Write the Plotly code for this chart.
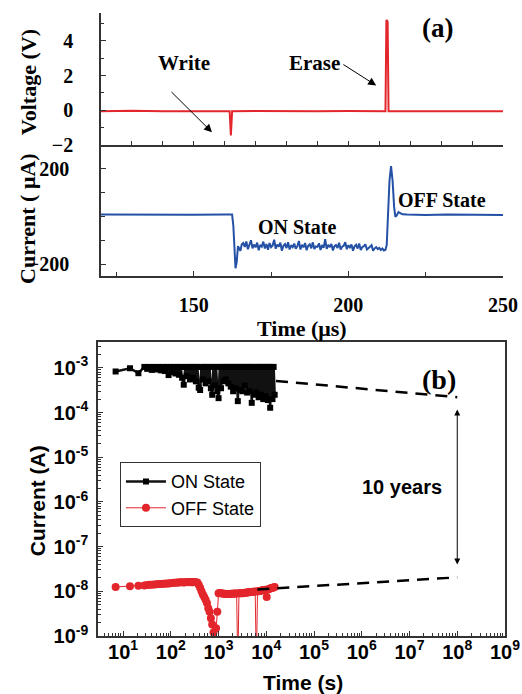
import plotly.graph_objects as go

# ---------------- panel (a) data ----------------
volt_t = [120, 130, 140, 150, 158, 161.6, 162.0, 162.4, 170, 180, 190, 200, 208,
          212.0, 212.3, 212.7, 213.0, 220, 230, 240, 250]
volt_v = [-0.05, -0.03, -0.06, -0.04, -0.05, -0.05, -1.45, -0.05, -0.04, -0.06, -0.05,
          -0.04, -0.05, -0.05, 5.2, 5.1, -0.05, -0.05, -0.04, -0.06, -0.05]

cur_t = [120, 130, 140, 150, 160, 162.4, 162.8, 163.1, 163.5, 163.9, 164.3, 164.7, 165.1, 165.5,
         166.0, 166.5, 167.0, 167.5, 168.0, 168.5, 169.0, 169.5, 170.0, 170.5,
         171.0, 171.5, 172.0, 172.5, 173.0, 173.5, 174.0, 174.5, 175.0, 175.5,
         176.0, 176.5, 177.0, 177.5, 178.0, 178.5, 179.0, 179.5, 180.0, 180.5,
         181.0, 181.5, 182.0, 182.5, 183.0, 183.5, 184.0, 184.5, 185.0, 185.5,
         186.0, 186.5, 187.0, 187.5, 188.0, 188.5, 189.0, 189.5, 190.0, 190.5,
         191.0, 191.5, 192.0, 192.5, 193.0, 193.5, 194.0, 194.5, 195.0, 195.5,
         196.0, 196.5, 197.0, 197.5, 198.0, 198.5, 199.0, 199.5, 200.0, 200.5,
         201.0, 201.5, 202.0, 202.5, 203.0, 203.5, 204.0, 204.5, 205.0, 205.5,
         206.0, 206.5, 207.0, 207.5, 208.0, 208.5, 209.0, 209.5, 210.0, 210.5,
         211.0, 211.5,
         212.0, 212.4, 212.8, 213.3, 213.8, 214.3, 214.8, 215.2, 215.7, 216.2, 216.8, 217.5,
         219, 225, 232, 240, 250]
cur_i = [8, 7, 9, 7, 8, 8, -40, -150, -218, -190, -125, -135, -145, -118,
         -112, -128, -105, -138, -120, -100, -134, -118, -130, -110,
         -142, -120, -127, -106, -135, -116, -140, -112, -129, -122,
         -98, -136, -118, -127, -110, -144, -123, -116, -133, -108,
         -139, -121, -129, -114, -136, -125, -103, -139, -119, -130,
         -112, -142, -123, -117, -134, -109, -137, -126, -128, -113,
         -141, -120, -132, -96, -136, -119, -129, -116, -143, -125,
         -120, -133, -111, -139, -127, -123, -108, -138, -121, -130,
         -118, -144, -126, -119, -135, -114, -141, -129, -125, -117,
         -139, -131, -127, -121, -144, -134, -129, -137, -132, -141,
         -135, -143,
         -140, -120, 0, 150, 212, 150, 40, -2, 5, 18, 14, 9,
         8, 6, 8, 7, 6]

# ---------------- panel (b) data ----------------
ret_t = [7, 14, 21, 28, 32, 36, 40, 45, 50, 56, 62, 68, 75, 82, 90, 98, 107, 116, 126, 137,
         148, 160, 173, 187, 202, 218, 235, 253, 272, 292, 313, 336, 360, 385, 412, 440, 470,
         502, 536, 572, 610, 650, 692, 737, 785, 835, 888, 944, 1003, 1065, 1130, 1200, 1273,
         1350, 1431, 1517, 1607, 1703, 1804, 1910, 2022, 2140, 2265, 2397, 2536, 2683, 2838,
         3002, 3175, 3358, 3551, 3755, 3971, 4199, 4440, 4695, 4964, 5248, 5548, 5866, 6201,
         6556, 6931, 7327, 7746, 8188, 8656, 9150, 9672, 10224, 10807, 11423, 12074, 12762,
         13489, 14257, 15000]
on_i = [8.3e-4, 9.8e-4, 7.6e-4, 1.05e-3, 9.5e-4, 1.05e-3, 9.0e-4, 1.05e-3, 9.2e-4, 1.05e-3,
        8.8e-4, 1.05e-3, 8.5e-4, 1.05e-3, 6.9e-4, 1.05e-3, 8.0e-4, 1.05e-3, 7.5e-4, 1.05e-3,
        7.0e-4, 1.05e-3, 6.0e-4, 4.2e-4, 1.05e-3, 6.5e-4, 1.05e-3, 5.5e-4, 1.05e-3, 6.0e-4,
        1.05e-3, 5.0e-4, 1.05e-3, 3.6e-4, 3.2e-4, 1.05e-3, 5.5e-4, 1.05e-3, 4.5e-4, 1.05e-3,
        5.0e-4, 1.05e-3, 3.5e-4, 2.5e-4, 1.05e-3, 4.0e-4, 1.05e-3, 3.0e-4, 2.1e-4, 1.05e-3,
        3.5e-4, 1.05e-3, 5.0e-4, 1.05e-3, 5.5e-4, 1.05e-3, 4.5e-4, 1.05e-3, 3.8e-4, 1.05e-3,
        3.0e-4, 1.05e-3, 3.5e-4, 1.05e-3, 1.8e-4, 1.05e-3, 3.2e-4, 1.05e-3, 3.0e-4, 1.05e-3,
        4.0e-4, 1.05e-3, 2.8e-4, 1.05e-3, 3.0e-4, 1.05e-3, 1.65e-4, 1.05e-3, 2.5e-4, 1.05e-3,
        2.8e-4, 1.05e-3, 2.2e-4, 1.05e-3, 2.5e-4, 1.05e-3, 2.0e-4, 1.05e-3, 2.3e-4, 1.05e-3,
        1.9e-4, 1.05e-3, 1.28e-4, 1.05e-3, 2.0e-4, 1.05e-3, 2.5e-4]
off_i = [1.25e-8, 1.3e-8, 1.33e-8, 1.35e-8, 1.38e-8, 1.4e-8, 1.4e-8, 1.42e-8, 1.43e-8, 1.45e-8,
         1.46e-8, 1.47e-8, 1.48e-8, 1.5e-8, 1.5e-8, 1.52e-8, 1.53e-8, 1.55e-8, 1.55e-8, 1.57e-8,
         1.58e-8, 1.6e-8, 1.6e-8, 1.58e-8, 1.6e-8, 1.62e-8, 1.6e-8, 1.62e-8, 1.6e-8, 1.6e-8,
         1.62e-8, 1.6e-8, 1.58e-8, 1.4e-8, 1.2e-8, 1.0e-8, 8.5e-9, 7.5e-9, 6.5e-9, 5.5e-9,
         4.2e-9, 3.5e-9, 2.5e-9, 1.8e-9, 1.2e-9, 5e-10, 1.5e-9, 3.5e-9, 9.0e-9, 9.2e-9,
         9.0e-9, 8.9e-9, 8.8e-9, 8.8e-9, 8.7e-9, 8.7e-9, 8.7e-9, 8.7e-9, 8.8e-9, 8.8e-9,
         8.8e-9, 8.9e-9, 8.9e-9, 8.9e-9, 2e-10, 9.0e-9, 9.0e-9, 9.1e-9, 9.1e-9, 9.2e-9,
         9.3e-9, 9.3e-9, 9.4e-9, 9.5e-9, 9.5e-9, 9.6e-9, 9.7e-9, 9.8e-9, 9.8e-9, 9.9e-9,
         2e-10, 1.0e-8, 1.0e-8, 1.02e-8, 1.03e-8, 1.05e-8, 1.06e-8, 1.07e-8, 1.08e-8, 7.5e-9,
         1.1e-8, 1.12e-8, 1.15e-8, 1.18e-8, 1.2e-8, 1.22e-8, 1.25e-8]

on_fit_t = [1.6e4, 1e8]
on_fit_i = [5.1e-4, 2.2e-4]
off_fit_t = [6.5e3, 1e8]
off_fit_i = [1.1e-8, 2.05e-8]

log_ticks = [1, 2, 3, 4, 5, 6, 7, 8, 9]
log_tick_text = ["10<sup>%d</sup>" % k for k in log_ticks]
ylog_ticks = [-9, -8, -7, -6, -5, -4, -3]
ylog_tick_text = ["10<sup>%d</sup>" % k for k in ylog_ticks]

RED = "#e3262c"
BLUE = "#2451a6"
SERIF = "Liberation Serif"
SANS = "Liberation Sans"

fig = go.Figure()
fig.add_trace(go.Scatter(x=volt_t, y=volt_v, mode="lines", line=dict(color=RED, width=2),
                         xaxis="x", yaxis="y", showlegend=False))
fig.add_trace(go.Scatter(x=cur_t, y=cur_i, mode="lines", line=dict(color=BLUE, width=2),
                         xaxis="x2", yaxis="y2", showlegend=False))
fig.add_trace(go.Scatter(x=ret_t, y=on_i, mode="lines+markers", name="ON State",
                         line=dict(color="#111", width=2.5),
                         marker=dict(symbol="square", size=6, color="black"),
                         xaxis="x3", yaxis="y3"))
fig.add_trace(go.Scatter(x=ret_t, y=off_i, mode="lines+markers", name="OFF State",
                         line=dict(color=RED, width=1),
                         marker=dict(symbol="circle", size=8, color=RED),
                         xaxis="x3", yaxis="y3"))
for tt, ii in [(on_fit_t, on_fit_i), (off_fit_t, off_fit_i)]:
    fig.add_trace(go.Scatter(x=tt, y=ii, mode="lines", showlegend=False,
                             line=dict(color="black", width=2.5, dash="12px,8px"),
                             xaxis="x3", yaxis="y3"))

axcol = "#333"
tfont_serif = dict(family=SERIF, size=20, color="black", weight="bold")
tfont_sans = dict(family=SANS, size=20, color="black", weight="bold")
xdom_top = [0.0074, 0.995]
common = dict(showgrid=False, zeroline=False, automargin=False, showline=True,
              linecolor=axcol, linewidth=1.5, tickcolor=axcol, ticks="inside")

fig.update_layout(
    width=522, height=694,
    margin=dict(l=98, r=17, t=13, b=58),
    paper_bgcolor="white", plot_bgcolor="white",
    xaxis=dict(domain=xdom_top, anchor="y", range=[120, 250], ticklen=4, dtick=10, tick0=120,
               showticklabels=False, **common),
    yaxis=dict(domain=[0.788, 1], anchor="x", range=[-2, 5.6], ticklen=5, dtick=2, tick0=0,
               minor=dict(ticks="inside", ticklen=3, dtick=1, tickcolor=axcol),
               tickfont=tfont_serif, ticklabelstandoff=22, **common),
    xaxis2=dict(domain=xdom_top, anchor="y2", range=[120, 250], ticklen=5,
                tickvals=[150, 200, 250],
                minor=dict(ticks="inside", ticklen=4, tickvals=[125, 175, 225], tickcolor=axcol),
                tickfont=tfont_serif, ticklabelstandoff=10, **common),
    yaxis2=dict(domain=[0.578, 0.788], anchor="x2", range=[-250, 300], ticklen=5,
                tickvals=[-200, 200],
                minor=dict(ticks="inside", ticklen=4, tickvals=[-100, 0, 100], tickcolor=axcol),
                tickfont=tfont_serif, ticklabelstandoff=26, **common),
    xaxis3=dict(domain=[0, 1], anchor="y3", type="log", range=[0.476, 9.0], mirror=True,
                ticklen=5, tickvals=[10 ** k for k in log_ticks], ticktext=log_tick_text,
                minor=dict(ticks="inside", ticklen=3, dtick="D1", tickcolor=axcol),
                tickfont=tfont_sans, ticklabelstandoff=-3, **common),
    yaxis3=dict(domain=[0, 0.472], anchor="x3", type="log", range=[-9, -2.42], mirror=True,
                ticklen=5, tickvals=[10.0 ** k for k in ylog_ticks], ticktext=ylog_tick_text,
                minor=dict(ticks="inside", ticklen=3, dtick="D1", tickcolor=axcol),
                tickfont=tfont_sans, ticklabelstandoff=4, **common),
    legend=dict(x=0.054, y=0.279, xanchor="left", yanchor="top", bordercolor=axcol, borderwidth=1,
                bgcolor="white", font=dict(family=SANS, size=18, color="black"), tracegroupgap=0,
                itemwidth=40),
)

ann = []
def txt(text, x, y, xref, yref, size, family, angle=0):
    ann.append(dict(text=text, x=x, y=y, xref=xref, yref=yref, showarrow=False,
                    textangle=angle, font=dict(family=family, size=size, color="black", weight="bold"),
                    xanchor="center", yanchor="middle"))

txt("Voltage (V)", -0.172, 0.889, "paper", "paper", 22, SERIF, -90)
txt("Current ( μA)", -0.172, 0.671, "paper", "paper", 22, SERIF, -90)
txt("Time (μs)", 0.501, 0.493, "paper", "paper", 22, SERIF)
txt("Current (A)", -0.150, 0.218, "paper", "paper", 21, SANS, -90)
txt("Time (s)", 0.504, -0.075, "paper", "paper", 21, SANS)
txt("(a)", 228.7, 4.75, "x", "y", 27, SERIF)
txt("Write", 146.8, 2.7, "x", "y", 21, SERIF)
txt("Erase", 189.0, 2.7, "x", "y", 21, SERIF)
txt("ON State", 183.4, -46, "x2", "y2", 20, SERIF)
txt("OFF State", 230.4, 71, "x2", "y2", 20, SERIF)
txt("(b)", 0.838, 0.411, "paper", "paper", 28, SERIF)
txt("10 years", 0.747, 0.239, "paper", "paper", 20, SANS)

# arrows
ann.append(dict(x=155.9, y=-1.26, ax=142.3, ay=1.14, xref="x", yref="y", axref="x", ayref="y",
                showarrow=True, arrowhead=2, arrowsize=1.6, arrowwidth=1, arrowcolor="black", text=""))
ann.append(dict(x=209.0, y=1.43, ax=197.9, ay=2.69, xref="x", yref="y", axref="x", ayref="y",
                showarrow=True, arrowhead=2, arrowsize=1.6, arrowwidth=1, arrowcolor="black", text=""))
ann.append(dict(x=8, y=-7.4, ax=8, ay=-3.9, xref="x3", yref="y3", axref="x3", ayref="y3",
                showarrow=True, arrowhead=2, startarrowhead=2, arrowside="end+start",
                arrowsize=1.2, startarrowsize=1.2, arrowwidth=1, arrowcolor="black", text=""))
fig.update_layout(annotations=ann)

# remove the page's default 8px body margin so the figure fills the window exactly
fig.write_html("out.html", config={"displayModeBar": False},
               post_script="document.body.style.margin='0';document.body.style.overflow='hidden';")
